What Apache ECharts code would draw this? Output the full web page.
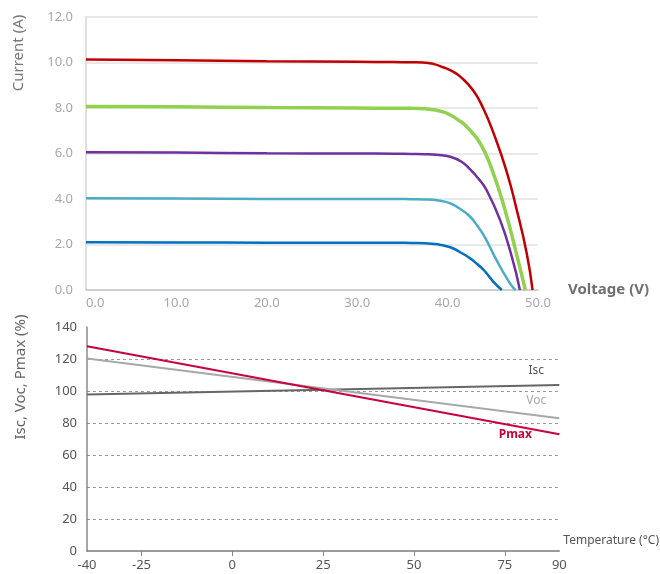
<!DOCTYPE html>
<html>
<head>
<meta charset="utf-8">
<script src="https://cdn.jsdelivr.net/npm/echarts@6/dist/echarts.min.js"></script>
<style>
    html, body { margin: 0; padding: 0; background: #fff; }
    #main { width: 660px; height: 574px; }
</style>
</head>
<body>
<div id="main"></div>
<script>
// I-V curves (voltage V, current A)
var redV = [0, 10, 20, 30, 34, 36, 37.3, 38.5, 39.5, 40.5, 41.4, 42.8, 43.95, 45.06, 46.5, 47.6, 48.75, 49.4];
var redI = [10.13, 10.1, 10.06, 10.03, 10.02, 10.01, 10.0, 9.93, 9.79, 9.62, 9.38, 8.79, 7.98, 6.92, 5.25, 3.6, 1.62, 0];
var greenV = [0, 10, 20, 30, 34, 36, 37.5, 38.5, 39.5, 40.3, 41.2, 42.1, 43.6, 44.9, 46.35, 47.6, 48.6];
var greenI = [8.07, 8.05, 8.02, 8.0, 7.99, 7.99, 7.97, 7.92, 7.83, 7.69, 7.47, 7.18, 6.45, 5.3, 3.52, 1.62, 0];
var purpleV = [0, 10, 20, 30, 34, 36, 37.5, 38.8, 40.3, 41.5, 42.5, 43.4, 44.3, 45.8, 47.1, 48.0];
var purpleI = [6.05, 6.04, 6.01, 6.0, 5.99, 5.98, 5.97, 5.94, 5.86, 5.65, 5.3, 4.9, 4.4, 3.08, 1.47, 0];
var cyanV = [0, 10, 20, 30, 34, 36, 37.5, 39, 40.3, 41.4, 42.5, 43.3, 44.1, 45.4, 46.9, 47.5];
var cyanI = [4.03, 4.02, 4.0, 4.0, 4.0, 3.99, 3.98, 3.93, 3.81, 3.56, 3.22, 2.81, 2.34, 1.32, 0.29, 0];
var blueV = [0, 10, 20, 30, 34, 36, 37.5, 39, 40.3, 41.4, 42.5, 43.3, 44.0, 45.05, 46.0];
var blueI = [2.1, 2.09, 2.08, 2.08, 2.08, 2.07, 2.06, 2.0, 1.88, 1.66, 1.39, 1.13, 0.88, 0.37, 0];

// temperature dependence (%)
var temps = [-40, 90];
var iscVals = [97.8, 103.7];
var vocVals = [120.3, 83.0];
var pmaxVals = [128.0, 73.0];
var tempLabels = [-40, -25, 0, 25, 50, 75, 90];
var tempTicks = [-25, 0, 25, 50, 75];

var font = 'Noto Sans';

function pairs(xs, ys) {
    var out = [];
    for (var i = 0; i < xs.length; i++) out.push([xs[i], ys[i]]);
    return out;
}

function ivSeries(xs, ys, color, width) {
    return {
        type: 'line',
        xAxisIndex: 0,
        yAxisIndex: 0,
        data: pairs(xs, ys),
        smooth: 0.5,
        showSymbol: false,
        lineStyle: { color: color, width: width },
        z: 3
    };
}

function tempSeries(name, vals, color, labelColor, offset, bold) {
    return {
        name: name,
        type: 'line',
        xAxisIndex: 1,
        yAxisIndex: 1,
        data: pairs(temps, vals),
        showSymbol: false,
        lineStyle: { color: color, width: 2 },
        endLabel: {
            show: true,
            formatter: name,
            align: 'center',
            verticalAlign: 'middle',
            distance: 0,
            offset: offset,
            color: labelColor,
            fontFamily: font,
            fontSize: 12,
            fontWeight: bold ? 'bold' : 'normal'
        },
        z: 3
    };
}

var chart = echarts.init(document.getElementById('main'));
var option = {
    backgroundColor: '#fff',
    animation: false,
    textStyle: { fontFamily: font },
    grid: [
        { left: 86, right: 122, top: 17, bottom: 284 },
        { left: 87, right: 96, top: 327, bottom: 23 }
    ],
    xAxis: [{
        gridIndex: 0,
        type: 'value',
        min: 0,
        max: 50,
        interval: 10,
        name: 'Voltage (V)',
        nameLocation: 'end',
        nameGap: 30,
        nameTextStyle: { color: '#6f6f6f', fontSize: 15, fontWeight: 'bold', fontFamily: font },
        axisLine: { show: true, onZero: false, lineStyle: { color: '#c8c8c8', width: 1.5 } },
        axisTick: { show: false },
        splitLine: { show: false },
        axisLabel: {
            color: '#a8a8a8',
            fontSize: 13,
            margin: 7,
            alignMinLabel: 'left',
            formatter: function(v) { return v.toFixed(1); }
        }
    }, {
        gridIndex: 1,
        type: 'value',
        min: -40,
        max: 90,
        name: 'Temperature (°C)',
        nameLocation: 'end',
        nameGap: 4,
        nameTextStyle: { color: '#555', fontSize: 12, verticalAlign: 'bottom', padding: [0, 0, 4, 0], fontFamily: font },
        axisLine: { show: true, onZero: false, lineStyle: { color: '#7a7a7a', width: 1.5 } },
        axisTick: { show: true, length: 5, customValues: tempTicks, lineStyle: { color: '#888' } },
        splitLine: { show: false },
        axisLabel: { color: '#555', fontSize: 13, margin: 8, customValues: tempLabels }
    }],
    yAxis: [{
        gridIndex: 0,
        type: 'value',
        min: 0,
        max: 12,
        interval: 2,
        axisLine: { show: true, onZero: false, lineStyle: { color: '#d4d4d4', width: 1.5 } },
        axisTick: { show: false },
        splitLine: { show: true, lineStyle: { color: '#e2e2e2', width: 1.5 } },
        axisLabel: {
            color: '#a8a8a8',
            fontSize: 13,
            margin: 13,
            formatter: function(v) { return v.toFixed(1); }
        }
    }, {
        gridIndex: 1,
        type: 'value',
        min: 0,
        max: 140,
        interval: 20,
        axisLine: { show: true, onZero: false, lineStyle: { color: '#8a8a8a', width: 1.5 } },
        axisTick: { show: false },
        splitLine: { show: true, showMaxLine: false, showMinLine: false, lineStyle: { color: '#9a9a9a', width: 1, type: [3, 3] } },
        axisLabel: { color: '#555', fontSize: 13, margin: 10 }
    }],
    graphic: [{
        type: 'text',
        x: 19,
        y: 53,
        rotation: Math.PI / 2,
        style: { text: 'Current (A)', fill: '#777', font: '15px "Noto Sans"', align: 'center', verticalAlign: 'middle' }
    }, {
        type: 'text',
        x: 21,
        y: 377,
        rotation: Math.PI / 2,
        style: { text: 'Isc, Voc, Pmax (%)', fill: '#666', font: '15px "Noto Sans"', align: 'center', verticalAlign: 'middle' }
    }],
    series: [
        ivSeries(blueV, blueI, '#0070c0', 2.5),
        ivSeries(cyanV, cyanI, '#4bacc6', 2.5),
        ivSeries(purpleV, purpleI, '#7030a0', 2.5),
        ivSeries(greenV, greenI, '#92d050', 3.5),
        ivSeries(redV, redI, '#c00000', 2.5),
        tempSeries('Isc', iscVals, '#666666', '#555', [-23, -15], false),
        tempSeries('Voc', vocVals, '#a8a8a8', '#a8a8a8', [-23, -18], false),
        tempSeries('Pmax', pmaxVals, '#c8003c', '#c8003c', [-44, 0], true)
    ]
};
chart.setOption(option);
</script>
</body>
</html>
